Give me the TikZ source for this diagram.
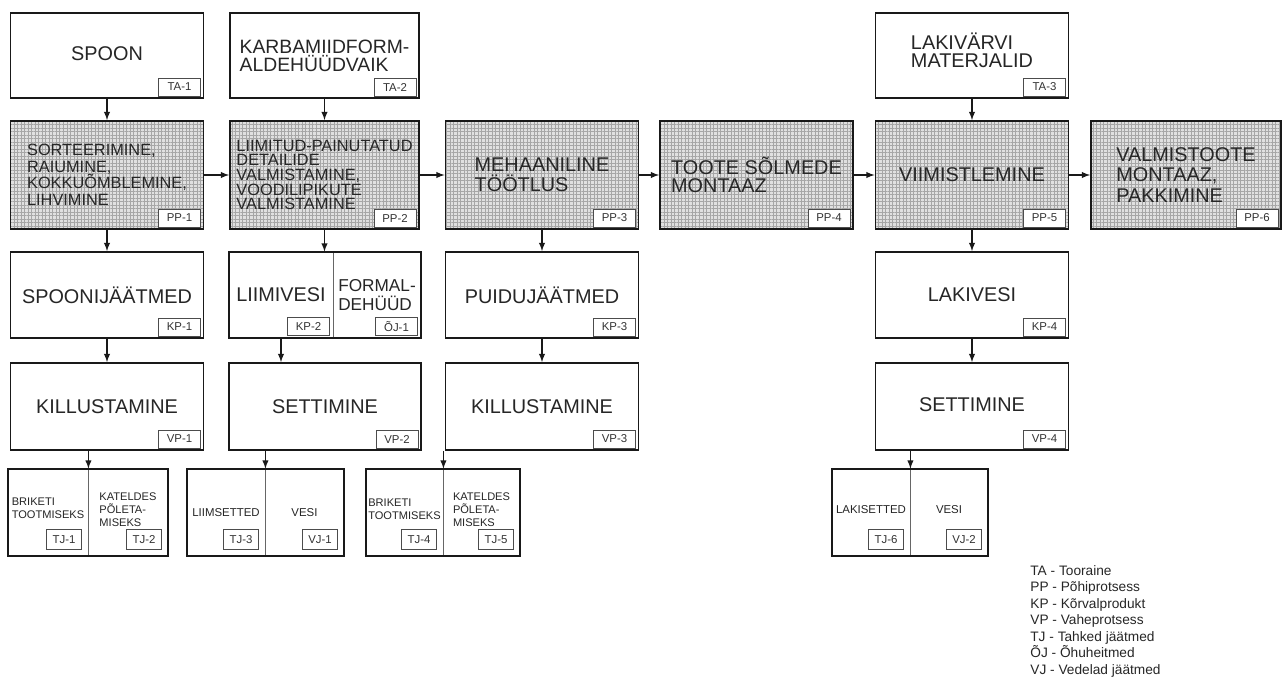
\documentclass[tikz,border=0pt]{standalone}
\usepackage{fontspec}
\setmainfont{Liberation Sans}
\usetikzlibrary{patterns.meta}

\begin{document}
\begin{tikzpicture}[x=0.02cm,y=-0.02cm,
    txt/.style={align=left,text=black!85,font=\fontsize{11.3}{11.6}\selectfont},
    rawbox/.style={txt,draw=black!90,line width=1.1pt,fill=white,minimum width=3.86cm,inner sep=2pt},
    inbox/.style={rawbox,minimum height=1.72cm},
    ppbox/.style={rawbox,minimum height=2.16cm,fill=none,
        preaction={fill=black!12},
        preaction={pattern={Hatch[angle=0,distance=2pt,line width=0.3pt]},pattern color=black!35}},
    half/.style={txt,draw=black!60,line width=0.5pt,fill=white,minimum height=1.74cm,inner sep=1pt},
    outline/.style={draw=black!90,line width=1.1pt},
    tag/.style={draw=black!70,line width=0.5pt,fill=white,text=black!80,font=\fontsize{6.5}{7}\selectfont,
        minimum width=0.84cm,minimum height=0.36cm,inner sep=1pt,anchor=south east,xshift=-0.07cm,yshift=0.05cm},
    smalltag/.style={tag,minimum width=0.7cm,minimum height=0.4cm,xshift=-0.06cm,yshift=0.08cm},
    arr/.style={-latex,line width=0.6pt,black!90}]
    \useasboundingbox (0,0) rectangle (1284,676);

    % raw materials
    \node[inbox,minimum height=1.7cm,text depth=2pt] (ta1) at (107,55.5) {SPOON};
    \node[inbox,minimum width=3.78cm,minimum height=1.7cm,font=\fontsize{11}{8.8}\selectfont] (ta2) at (324.5,55.5) {KARBAMIIDFORM-\\ALDEHÜÜDVAIK};
    \node[inbox,minimum height=1.7cm,font=\fontsize{11.3}{10.4}\selectfont,text depth=6pt] (ta3) at (972,55.5) {LAKIVÄRVI\\MATERJALID};
    \node[tag] (ta1t) at (ta1.south east) {TA-1};
    \node[tag] (ta2t) at (ta2.south east) {TA-2};
    \node[tag] (ta3t) at (ta3.south east) {TA-3};

    % main processes
    \node[ppbox,font=\fontsize{9.3}{9.4}\selectfont] (pp1) at (107,175) {SORTEERIMINE,\\RAIUMINE,\\KOKKUÕMBLEMINE,\\LIHVIMINE};
    \node[ppbox,minimum width=3.78cm,font=\fontsize{9.3}{8.3}\selectfont] (pp2) at (324.5,175) {LIIMITUD-PAINUTATUD\\DETAILIDE\\VALMISTAMINE,\\VOODILIPIKUTE\\VALMISTAMINE};
    \node[ppbox] (pp3) at (542,175) {MEHAANILINE\\TÖÖTLUS};
    \node[ppbox,font=\fontsize{11.3}{10.4}\selectfont] (pp4) at (756.5,175) {TOOTE SÕLMEDE\\MONTAAZ};
    \node[ppbox] (pp5) at (972,175) {VIIMISTLEMINE};
    \node[ppbox,minimum width=3.8cm] (pp6) at (1186,175) {VALMISTOOTE\\MONTAAZ,\\PAKKIMINE};
    \node[tag] (pp1t) at (pp1.south east) {PP-1};
    \node[tag] (pp2t) at (pp2.south east) {PP-2};
    \node[tag] (pp3t) at (pp3.south east) {PP-3};
    \node[tag] (pp4t) at (pp4.south east) {PP-4};
    \node[tag] (pp5t) at (pp5.south east) {PP-5};
    \node[tag] (pp6t) at (pp6.south east) {PP-6};

    % by-products
    \node[inbox] (kp1) at (107,295) {SPOONIJÄÄTMED};
    \node[half,minimum width=2.08cm,minimum height=1.72cm] (kp2) at (281,295) {LIIMIVESI};
    \node[half,minimum width=1.76cm,minimum height=1.72cm,font=\fontsize{9.8}{10.4}\selectfont] (oj1) at (377,295) {FORMAL-\\DEHÜÜD};
    \draw[outline] (kp2.north west) rectangle (oj1.south east);
    \node[inbox] (kp3) at (542,295) {PUIDUJÄÄTMED};
    \node[inbox] (kp4) at (972,295) {LAKIVESI};
    \node[tag] (kp1t) at (kp1.south east) {KP-1};
    \node[tag] (kp2t) at (kp2.south east) {KP-2};
    \node[tag] (oj1t) at (oj1.south east) {ÕJ-1};
    \node[tag] (kp3t) at (kp3.south east) {KP-3};
    \node[tag] (kp4t) at (kp4.south east) {KP-4};

    % intermediate processes
    \node[inbox,minimum height=1.74cm] (vp1) at (107,406.5) {KILLUSTAMINE};
    \node[inbox,minimum height=1.74cm,minimum width=3.84cm] (vp2) at (325,406.5) {SETTIMINE};
    \node[inbox,minimum height=1.74cm] (vp3) at (542,406.5) {KILLUSTAMINE};
    \node[inbox,minimum height=1.74cm,text depth=2pt] (vp4) at (972,406.5) {SETTIMINE};
    \node[tag] (vp1t) at (vp1.south east) {VP-1};
    \node[tag] (vp2t) at (vp2.south east) {VP-2};
    \node[tag] (vp3t) at (vp3.south east) {VP-3};
    \node[tag] (vp4t) at (vp4.south east) {VP-4};

    % wastes
    \node[half,minimum width=1.6cm,font=\fontsize{6.3}{7.6}\selectfont,text depth=5pt] (tj1) at (48,512.5) {BRIKETI\\TOOTMISEKS};
    \node[half,minimum width=1.6cm,font=\fontsize{6.3}{7.5}\selectfont,text depth=3.5pt] (tj2) at (128,512.5) {KATELDES\\PÕLETA-\\MISEKS};
    \draw[outline] (tj1.north west) rectangle (tj2.south east);
    \node[half,minimum width=1.56cm,font=\fontsize{6.5}{7.6}\selectfont] (tj3) at (226,512.5) {LIIMSETTED};
    \node[half,minimum width=1.58cm,font=\fontsize{6.5}{7.6}\selectfont] (vj1) at (304.5,512.5) {VESI};
    \draw[outline] (tj3.north west) rectangle (vj1.south east);
    \node[half,minimum width=1.54cm,font=\fontsize{6.3}{7.6}\selectfont,text depth=4pt] (tj4) at (404.5,512.5) {BRIKETI\\TOOTMISEKS};
    \node[half,minimum width=1.54cm,font=\fontsize{6.3}{7.5}\selectfont,text depth=3.5pt] (tj5) at (481.5,512.5) {KATELDES\\PÕLETA-\\MISEKS};
    \draw[outline] (tj4.north west) rectangle (tj5.south east);
    \node[half,minimum width=1.56cm,font=\fontsize{6.5}{7.6}\selectfont,text depth=3pt] (tj6) at (871,512.5) {LAKISETTED};
    \node[half,minimum width=1.56cm,font=\fontsize{6.5}{7.6}\selectfont,text depth=3pt] (vj2) at (949,512.5) {VESI};
    \draw[outline] (tj6.north west) rectangle (vj2.south east);
    \node[smalltag] (tj1t) at (tj1.south east) {TJ-1};
    \node[smalltag] (tj2t) at (tj2.south east) {TJ-2};
    \node[smalltag] (tj3t) at (tj3.south east) {TJ-3};
    \node[smalltag] (vj1t) at (vj1.south east) {VJ-1};
    \node[smalltag] (tj4t) at (tj4.south east) {TJ-4};
    \node[smalltag] (tj5t) at (tj5.south east) {TJ-5};
    \node[smalltag] (tj6t) at (tj6.south east) {TJ-6};
    \node[smalltag] (vj2t) at (vj2.south east) {VJ-2};

    % legend
    \node[anchor=north west,align=left,inner sep=0pt,text=black!85,font=\fontsize{7.8}{9.4}\selectfont] (legend) at (1030,565)
        {TA - Tooraine\\PP - Põhiprotsess\\KP - Kõrvalprodukt\\VP - Vaheprotsess\\TJ - Tahked jäätmed\\ÕJ - Õhuheitmed\\VJ - Vedelad jäätmed};

    % arrows
    \draw[arr] (ta1) -- (pp1);
    \draw[arr] (ta2) -- (pp2);
    \draw[arr] (ta3) -- (pp5);
    \draw[arr] (pp1) -- (pp2);
    \draw[arr] (pp2) -- (pp3);
    \draw[arr] (pp3) -- (pp4);
    \draw[arr] (pp4) -- (pp5);
    \draw[arr] (pp5) -- (pp6);
    \draw[arr] (pp1) -- (kp1);
    \draw[arr] (pp2.south) -- (pp2.south |- kp2.north);
    \draw[arr] (pp3) -- (kp3);
    \draw[arr] (pp5) -- (kp4);
    \draw[arr] (kp1) -- (vp1);
    \draw[arr] (kp2.south) -- (kp2.south |- vp2.north);
    \draw[arr] (kp3) -- (vp3);
    \draw[arr] (kp4) -- (vp4);
    \draw[arr] (tj1.north east |- vp1.south) -- (tj1.north east);
    \draw[arr] (tj3.north east |- vp2.south) -- (tj3.north east);
    \draw[arr] (tj4.north east |- vp3.south) -- (tj4.north east);
    \draw[arr] (tj6.north east |- vp4.south) -- (tj6.north east);
\end{tikzpicture}
\end{document}
